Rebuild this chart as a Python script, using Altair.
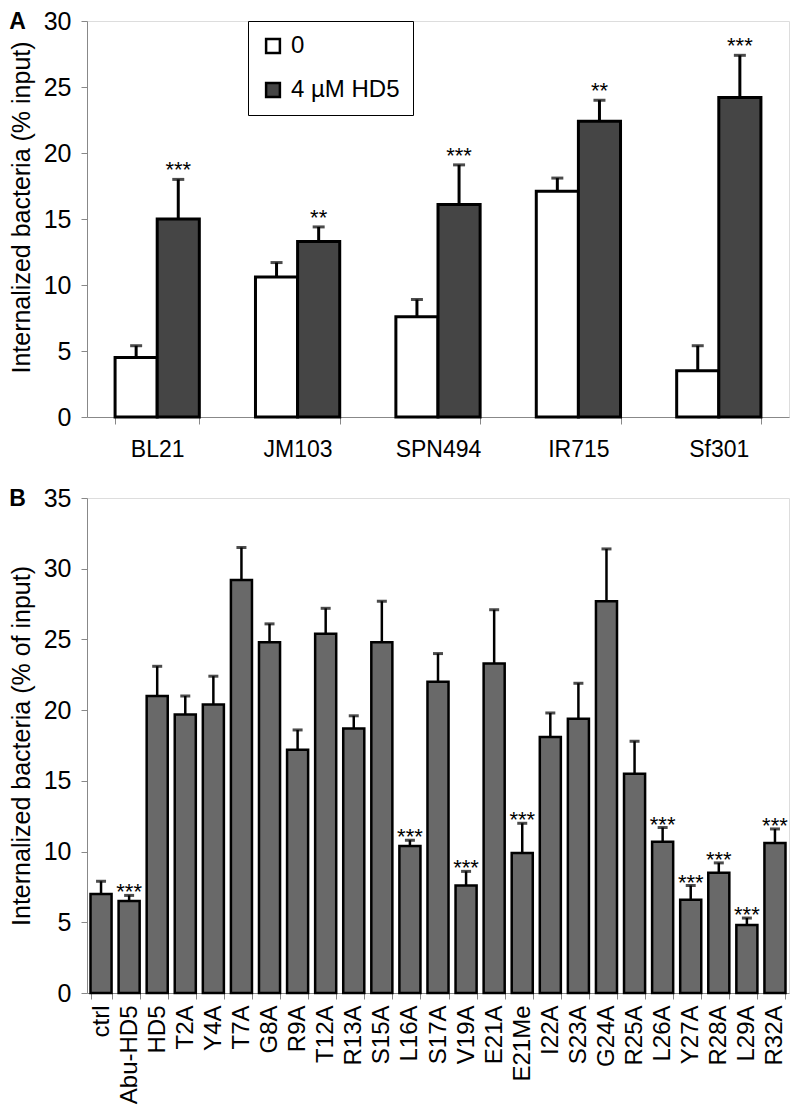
import altair as alt
import pandas as pd

FONT = "Liberation Sans"

# ---------------- Panel A data ----------------
strains = ["BL21", "JM103", "SPN494", "IR715", "Sf301"]
treatments = ["0", "4 µM HD5"]
a_ctrl = [4.5, 10.6, 7.6, 17.1, 3.5]
a_ctrl_err = [5.4, 11.7, 8.9, 18.1, 5.4]
a_ctrl_sig = ["", "", "", "", ""]
a_hd5 = [15.0, 13.3, 16.1, 22.4, 24.2]
a_hd5_err = [18.0, 14.4, 19.1, 24.0, 27.4]
a_hd5_sig = ["***", "**", "***", "**", "***"]

# ---------------- Panel B data ----------------
peptides = ["ctrl", "Abu-HD5", "HD5", "T2A", "Y4A", "T7A", "G8A", "R9A", "T12A",
            "R13A", "S15A", "L16A", "S17A", "V19A", "E21A", "E21Me", "I22A",
            "S23A", "G24A", "R25A", "L26A", "Y27A", "R28A", "L29A", "R32A"]
b_vals = [7.0, 6.5, 21.0, 19.7, 20.4, 29.2, 24.8, 17.2, 25.4,
          18.7, 24.8, 10.4, 22.0, 7.6, 23.3, 9.9, 18.1,
          19.4, 27.7, 15.5, 10.7, 6.6, 8.5, 4.8, 10.6]
b_err = [7.9, 6.9, 23.1, 21.0, 22.4, 31.5, 26.1, 18.6, 27.2,
         19.6, 27.7, 10.8, 24.0, 8.6, 27.1, 12.0, 19.8,
         21.9, 31.4, 17.8, 11.7, 7.6, 9.2, 5.3, 11.6]
b_sig = ["", "***", "", "", "", "", "", "", "",
         "", "", "***", "", "***", "", "***", "",
         "", "", "", "***", "***", "***", "***", "***"]

rows_a = []
for i, s in enumerate(strains):
    rows_a.append({"strain": s, "treatment": treatments[0], "value": a_ctrl[i],
                   "err": a_ctrl_err[i], "sig": a_ctrl_sig[i]})
    rows_a.append({"strain": s, "treatment": treatments[1], "value": a_hd5[i],
                   "err": a_hd5_err[i], "sig": a_hd5_sig[i]})
df_a = pd.DataFrame(rows_a)

df_b = pd.DataFrame({"peptide": peptides, "value": b_vals, "err": b_err, "sig": b_sig})

TITLE_A = "Internalized bacteria (% input)"
TITLE_B = "Internalized bacteria (% of input)"

y_axis_common = dict(titleFontSize=25, titleFont=FONT, titleFontWeight="normal",
                     titleColor="black", titlePadding=9, labelFontSize=25,
                     labelFont=FONT, labelColor="black", labelPadding=10,
                     tickSize=6, grid=False)

# ---------------- Panel A ----------------
xa = alt.X("strain:N", sort=strains,
           scale=alt.Scale(paddingInner=0.4, paddingOuter=0.2),
           axis=alt.Axis(title=None, labelAngle=0, tickBand="extent",
                         labelFontSize=23, labelFont=FONT, labelColor="black",
                         tickSize=7, labelPadding=14))
xoff = alt.XOffset("treatment:N", sort=treatments)
ya_scale = alt.Scale(domain=[0, 30])
ya_axis = alt.Axis(values=[0, 5, 10, 15, 20, 25, 30], titleY=186, **y_axis_common)

base_a = alt.Chart(df_a).encode(x=xa, xOffset=xoff)

bars_a = base_a.mark_bar(stroke="black", strokeWidth=3).encode(
    y=alt.Y("value:Q", scale=ya_scale, axis=ya_axis, title=TITLE_A),
    fill=alt.Fill("treatment:N", sort=treatments,
                  scale=alt.Scale(domain=treatments, range=["white", "#454545"]),
                  legend=alt.Legend(title=None, orient="none", legendX=161, legendY=0,
                                    direction="vertical", symbolType="square",
                                    symbolSize=190, symbolStrokeColor="black",
                                    symbolStrokeWidth=2.5, labelFontSize=24,
                                    labelFont=FONT, labelColor="black",
                                    strokeColor="black", fillColor="white",
                                    padding=13, rowPadding=20, labelOffset=6,
                                    cornerRadius=0)),
)
rule_a = base_a.mark_rule(color="black", strokeWidth=3).encode(
    y=alt.Y("value:Q", scale=ya_scale, title=TITLE_A), y2="err:Q")
cap_a = base_a.mark_tick(color="black", thickness=3, size=12).encode(
    y=alt.Y("err:Q", scale=ya_scale, title=TITLE_A))
star_a = base_a.mark_text(fontSize=22, font=FONT, baseline="alphabetic", dy=-2,
                          color="black").encode(
    y=alt.Y("err:Q", scale=ya_scale, title=TITLE_A), text="sig:N")

panel_a = alt.layer(bars_a, rule_a, cap_a, star_a).properties(
    width=702, height=396,
    title=alt.TitleParams("A", anchor="start", frame="bounds", fontSize=23,
                          fontWeight="bold", font=FONT, color="black",
                          offset=0, dy=25),
)

# ---------------- Panel B ----------------
xb = alt.X("peptide:N", sort=peptides,
           scale=alt.Scale(paddingInner=0.25, paddingOuter=0.125),
           axis=alt.Axis(title=None, labelAngle=-90, tickBand="extent",
                         labelFontSize=24, labelFont=FONT, labelColor="black",
                         tickSize=6, labelPadding=6))
yb_scale = alt.Scale(domain=[0, 35])
yb_axis = alt.Axis(values=[0, 5, 10, 15, 20, 25, 30, 35], **y_axis_common)

base_b = alt.Chart(df_b).encode(x=xb)
bars_b = base_b.mark_bar(fill="#696969", stroke="black", strokeWidth=2.5).encode(
    y=alt.Y("value:Q", scale=yb_scale, axis=yb_axis, title=TITLE_B))
rule_b = base_b.mark_rule(color="black", strokeWidth=2.5).encode(
    y=alt.Y("value:Q", scale=yb_scale, title=TITLE_B), y2="err:Q")
cap_b = base_b.mark_tick(color="black", thickness=3, size=10).encode(
    y=alt.Y("err:Q", scale=yb_scale, title=TITLE_B))
star_b = base_b.mark_text(fontSize=22, font=FONT, baseline="alphabetic", dy=4,
                          color="black").encode(
    y=alt.Y("err:Q", scale=yb_scale, title=TITLE_B), text="sig:N")

panel_b = alt.layer(bars_b, rule_b, cap_b, star_b).properties(
    width=702, height=495,
    title=alt.TitleParams("B", anchor="start", frame="bounds", fontSize=23,
                          fontWeight="bold", font=FONT, color="black",
                          offset=0, dy=25),
)

chart = alt.vconcat(panel_a, panel_b, spacing=23).properties(
    padding={"left": 0, "top": 0, "right": 0, "bottom": 0}
).configure_view(stroke=None).configure_axis(
    domainColor="black", domainWidth=3, tickColor="black", tickWidth=3
).configure(background="white")

chart.save("out.html", embed_options={"renderer": "svg", "actions": False})
